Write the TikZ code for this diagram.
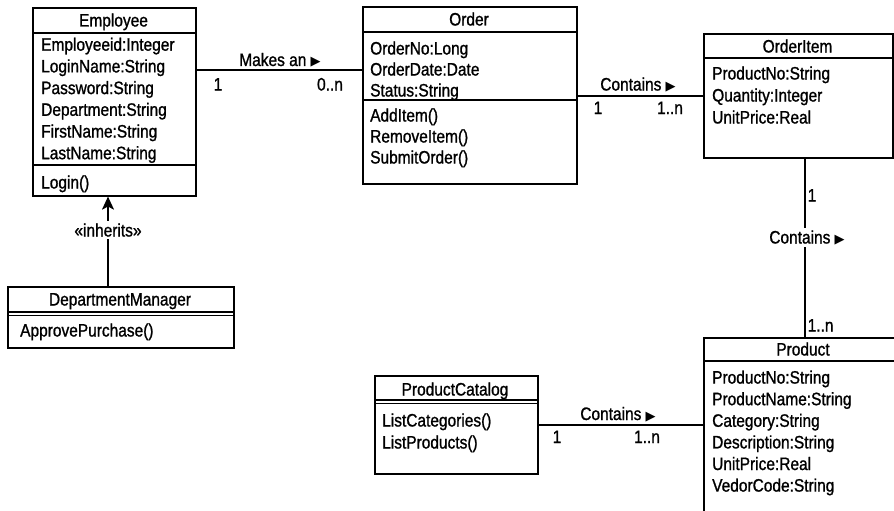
\documentclass[tikz,border=0pt]{standalone}
\usepackage{fontspec}
\setmainfont{Liberation Sans}[FakeStretch=0.86, FakeBold=1.1]
\newfontfamily\symfont{DejaVu Sans}
\usetikzlibrary{positioning}
\usetikzlibrary{arrows.meta}
\newcommand{\rtri}{{\symfont\fontsize{13}{13}\selectfont ▶}}

\tikzset{
    classbox/.style={draw, line width=1.6pt, anchor=north west, inner sep=0pt},
    attr/.style={anchor=base west, inner sep=0pt},
    txt/.style={anchor=base, inner sep=0pt},
    assoc/.style={line width=1.2pt},
    onlabel/.style={anchor=base, fill=white, inner sep=2pt},
}

\begin{document}
\begin{tikzpicture}[x=1pt, y=-1pt, every node/.style={font=\fontsize{18}{20}\selectfont}]
    \useasboundingbox (0,0) rectangle (894,511);

    % Employee
    \node[classbox, minimum width=163pt, minimum height=188pt] (emp) at (32,7) {};
    \node[txt] (emp-t) at (113.5,26.5) {Employee};
    \draw[line width=1.6pt] (32,33) -- (195,33);
    \draw[line width=1.6pt] (32,165) -- (195,165);
    \foreach \t [count=\k] in {Employeeid:Integer, LoginName:String, Password:String,
                               Department:String, FirstName:String, LastName:String} {
        \node[attr] (emp-a\k) at (41, 29+21.7*\k) {\t};
    }
    \node[attr] (emp-m1) at (41,188.5) {Login()};

    % DepartmentManager
    \node[classbox, minimum width=226pt, minimum height=61pt] (dm) at (7,286) {};
    \node[txt] (dm-t) at (120,305.5) {DepartmentManager};
    \draw[line width=1.2pt] (7,312) -- (233,312);
    \draw[line width=1.2pt] (7,315.5) -- (233,315.5);
    \node[attr] (dm-m1) at (20,336.5) {ApprovePurchase()};

    % Order
    \node[classbox, minimum width=214pt, minimum height=177pt] (ord) at (362,6) {};
    \node[txt] (ord-t) at (469,25.5) {Order};
    \draw[line width=1.6pt] (362,32) -- (576,32);
    \draw[line width=1.6pt] (362,100) -- (576,100);
    \foreach \t [count=\k] in {OrderNo:Long, OrderDate:Date, Status:String} {
        \node[attr] (ord-a\k) at (370, 33.5+21*\k) {\t};
    }
    \foreach \t [count=\k] in {AddItem(), RemoveItem(), SubmitOrder()} {
        \node[attr] (ord-m\k) at (370, 100.5+21*\k) {\t};
    }

    % OrderItem
    \node[classbox, minimum width=189pt, minimum height=124pt] (oi) at (703,33) {};
    \node[txt] (oi-t) at (797.5,52.5) {OrderItem};
    \draw[line width=1.6pt] (703,58) -- (892,58);
    \foreach \t [count=\k] in {ProductNo:String, Quantity:Integer, UnitPrice:Real} {
        \node[attr] (oi-a\k) at (712, 57.5+22*\k) {\t};
    }

    % Product (runs past the edge)
    \node[classbox, minimum width=200pt, minimum height=200pt] (prod) at (703,337) {};
    \node[txt] (prod-t) at (803,355.5) {Product};
    \draw[line width=1.6pt] (703,361) -- (903,361);
    \foreach \t [count=\k] in {ProductNo:String, ProductName:String, Category:String,
                               Description:String, UnitPrice:Real, VedorCode:String} {
        \node[attr] (prod-a\k) at (712, 362+21.6*\k) {\t};
    }

    % ProductCatalog
    \node[classbox, minimum width=163pt, minimum height=98pt] (cat) at (374,375) {};
    \node[txt] (cat-t) at (455,395.5) {ProductCatalog};
    \draw[line width=1.2pt] (374,400) -- (537,400);
    \draw[line width=1.2pt] (374,403.5) -- (537,403.5);
    \foreach \t [count=\k] in {ListCategories(), ListProducts()} {
        \node[attr] (cat-m\k) at (382, 404.5+22*\k) {\t};
    }

    % associations
    \coordinate (mk) at (0,70);
    \draw[assoc] (emp.east |- mk) -- (ord.west |- mk);
    \node[txt] (mk-l) at (280,66) {Makes an \rtri};
    \node[txt] (mk-1) at (218,90.5) {1};
    \node[txt] (mk-n) at (330,90.5) {0..n};

    \coordinate (ct) at (0,96);
    \draw[assoc] (ord.east |- ct) -- (oi.west |- ct);
    \node[txt] (ct-l) at (638,90.5) {Contains \rtri};
    \node[txt] (ct-1) at (598,114) {1};
    \node[txt] (ct-n) at (670,114) {1..n};

    \coordinate (cv) at (805,0);
    \draw[assoc] (oi.south -| cv) -- (prod.north -| cv);
    \node[onlabel] (cv-l) at (807,243.5) {Contains \rtri};
    \node[attr] (cv-1) at (807.5,201.5) {1};
    \node[attr] (cv-n) at (807.5,331.5) {1..n};

    \coordinate (cc) at (0,425);
    \draw[assoc] (cat.east |- cc) -- (prod.west |- cc);
    \node[txt] (cc-l) at (618,420) {Contains \rtri};
    \node[txt] (cc-1) at (557,443) {1};
    \node[txt] (cc-n) at (647,443) {1..n};

    % inheritance
    \coordinate (ih) at (108,0);
    \draw[assoc, -{Stealth[length=13pt, width=12pt, inset=3pt]}] (dm.north -| ih) -- (emp.south -| ih);
    \node[onlabel] (ih-l) at (108,236.5) {«inherits»};
\end{tikzpicture}
\end{document}
